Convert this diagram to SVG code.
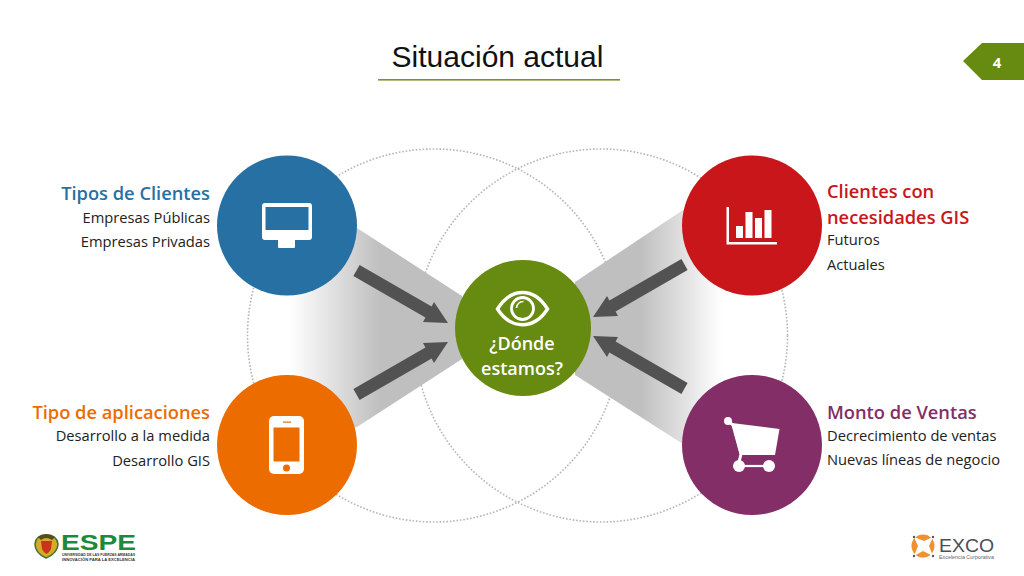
<svg xmlns="http://www.w3.org/2000/svg" xmlns:xlink="http://www.w3.org/1999/xlink" width="1024" height="576" viewBox="0 0 1024 576">
<style>
text{font-family:"Open Sans","Liberation Sans",sans-serif}
.lat{font-family:"Liberation Sans",Arial,sans-serif}
.h{font-size:18.3px;font-weight:600}
.s{font-size:14.7px;fill:#222}
.e{text-anchor:end}
.ring{fill:none;stroke:#b5b5b5;stroke-width:1.6;stroke-dasharray:1.6 1.8}
.ico{fill:#fff}
.arrow{fill:#525252}
</style>
<defs>
<linearGradient id="gl" gradientUnits="userSpaceOnUse" x1="290" y1="0" x2="380" y2="0"><stop offset="0" stop-color="#bfbfbf" stop-opacity="0"/><stop offset="1" stop-color="#bfbfbf"/></linearGradient>
<linearGradient id="gr" gradientUnits="userSpaceOnUse" x1="722" y1="0" x2="640" y2="0"><stop offset="0" stop-color="#bfbfbf" stop-opacity="0"/><stop offset="1" stop-color="#bfbfbf"/></linearGradient>
<polygon id="arr" class="arrow" points="359.6,265 431.6,306.5 434,302 448,323 423,322 425.4,317.5 353.4,276"/>
</defs>
<rect width="1024" height="576" fill="#fff"/>

<g id="title">
<text class="lat" x="497.500" y="67" font-size="30" text-anchor="middle" fill="#111">Situación actual</text>
<rect x="378" y="79" width="242" height="1.600" fill="#7b9132"/>
</g>
<g id="badge">
<polygon points="963,61 982,43 1024,43 1024,80 982,80" fill="#678a10"/>
<text x="997" y="68" font-size="15" font-weight="700" fill="#fff" text-anchor="middle">4</text>
</g>

<g id="rings">
<circle class="ring" cx="434" cy="335.500" r="186.500"/>
<circle class="ring" cx="601" cy="335.500" r="186.500"/>
</g>

<g id="connectors">
<polygon points="287,225 357,228 462,296 462,359 357,427 287,445" fill="url(#gl)"/>
<polygon points="752,225 683,210 575,282 575,375 683,444 752,445" fill="url(#gr)"/>
<use xlink:href="#arr" href="#arr"/>
<use xlink:href="#arr" href="#arr" transform="matrix(1 0 0 -1 0 665)"/>
<use xlink:href="#arr" href="#arr" transform="matrix(-1 0 0 1 1041 -6)"/>
<use xlink:href="#arr" href="#arr" transform="matrix(-1 0 0 -1 1041 659)"/>
</g>

<g id="node-clientes">
<circle cx="287" cy="225.500" r="70" fill="#2670a3"/>
<path class="ico" fill-rule="evenodd" d="M265,203H309a3,3 0 0 1 3,3V237a3,3 0 0 1-3,3H295V247q0,1-1,1H279q-1,0-1-1V240H265a3,3 0 0 1-3-3V206a3,3 0 0 1 3-3ZM265.500,207V230H308.500V207Z"/>
<text class="h e" x="210" y="200" fill="#2670a3">Tipos de Clientes</text>
<text class="s e" x="210" y="223">Empresas Públicas</text>
<text class="s e" x="210" y="247">Empresas Privadas</text>
</g>

<g id="node-aplicaciones">
<circle cx="287" cy="445" r="70" fill="#ed6c00"/>
<rect class="ico" x="269" y="416" width="35" height="58" rx="5"/>
<rect x="273.500" y="427.500" width="26" height="34" fill="#ed6c00"/>
<circle cx="286.500" cy="468" r="3.500" fill="#ed6c00"/>
<rect x="283" y="421.500" width="8" height="1.200" fill="#ed6c00"/>
<text class="h e" x="210" y="419" fill="#ed6c00">Tipo de aplicaciones</text>
<text class="s e" x="210" y="441">Desarrollo a la medida</text>
<text class="s e" x="210" y="466">Desarrollo GIS</text>
</g>

<g id="node-gis">
<circle cx="752" cy="225.500" r="70" fill="#c9161a"/>
<path class="ico" d="M726.500,207H729V242H777V244.500H726.500Z"/>
<rect class="ico" x="736" y="226" width="7" height="12"/>
<rect class="ico" x="745.500" y="212" width="7" height="26"/>
<rect class="ico" x="755" y="218" width="7" height="20"/>
<rect class="ico" x="764.500" y="210" width="7" height="28"/>
<text class="h" x="827" y="198" fill="#c9161a">Clientes con</text>
<text class="h" x="827" y="224" fill="#c9161a">necesidades GIS</text>
<text class="s" x="827" y="245">Futuros</text>
<text class="s" x="827" y="270">Actuales</text>
</g>

<g id="node-ventas">
<circle cx="752" cy="445" r="70" fill="#832e66"/>
<path class="ico" d="M732,423L779.500,429L775,455H740Z"/>
<path d="M728,421L733,425L741,454L738,466" fill="none" stroke="#fff" stroke-width="3"/>
<path d="M739,466H769" fill="none" stroke="#fff" stroke-width="2.200"/>
<circle class="ico" cx="728" cy="421" r="4"/>
<circle class="ico" cx="739" cy="466" r="6"/>
<circle class="ico" cx="769" cy="466" r="6"/>
<text class="h" x="827" y="419" fill="#832e66">Monto de Ventas</text>
<text class="s" x="827" y="441">Decrecimiento de ventas</text>
<text class="s" x="827" y="465">Nuevas líneas de negocio</text>
</g>

<g id="node-centro">
<circle cx="523" cy="328" r="68" fill="#678a10"/>
<path d="M497.500,309C511,287 534,287 547.500,309C534,330 511,330 497.500,309Z" fill="none" stroke="#fff" stroke-width="3.400"/>
<circle cx="522.500" cy="308.500" r="11" fill="none" stroke="#fff" stroke-width="2.800"/>
<path d="M516.500,308a6.500,6.500 0 0 1 7-6.500" fill="none" stroke="#fff" stroke-width="1.600"/>
<text x="522" y="350" font-size="18" font-weight="600" fill="#fff" text-anchor="middle">¿Dónde</text>
<text x="522" y="375" font-size="18" font-weight="600" fill="#fff" text-anchor="middle">estamos?</text>
</g>

<g id="logo-espe">
<path d="M35,544Q36,535 46,535Q57,535 58,544Q58,553 46,558Q35,553 35,544Z" fill="#d9a92a" stroke="#3f7a33" stroke-width="1.600"/>
<path d="M41,541H52L51,549Q49,553 46.500,554Q44,553 42,549Z" fill="#c8341c"/>
<path d="M38,537Q46,531 55,537L52,540Q46,536 41,540Z" fill="#5a4a20"/>
<text class="lat" x="61" y="550" font-size="22" font-weight="700" fill="#1c8a3c" textLength="75" lengthAdjust="spacingAndGlyphs">ESPE</text>
<text class="lat" x="62" y="556" font-size="3.500" font-weight="700" fill="#333" textLength="73" lengthAdjust="spacingAndGlyphs">UNIVERSIDAD DE LAS FUERZAS ARMADAS</text>
<text class="lat" x="62" y="560.500" font-size="3.500" font-weight="700" fill="#333" textLength="73" lengthAdjust="spacingAndGlyphs">INNOVACIÓN PARA LA EXCELENCIA</text>
</g>

<g id="logo-exco">
<circle cx="923" cy="546" r="11.500" fill="#ef9130"/>
<path d="M914,537L924,541L933,537L929,546L933,556L923,551L914,556L918,546Z" fill="#fff"/>
<g fill="#555"><circle cx="914" cy="537" r="1.200"/><circle cx="933" cy="537" r="1.200"/><circle cx="914" cy="556" r="1.200"/><circle cx="933" cy="556" r="1.200"/></g>
<text class="lat" x="939" y="552" font-size="19" fill="#4a4f55" textLength="55" lengthAdjust="spacingAndGlyphs">EXCO</text>
<text class="lat" x="939" y="558.500" font-size="4.500" fill="#666" textLength="55" lengthAdjust="spacingAndGlyphs">Excelencia Corporativa</text>
</g>
</svg>
